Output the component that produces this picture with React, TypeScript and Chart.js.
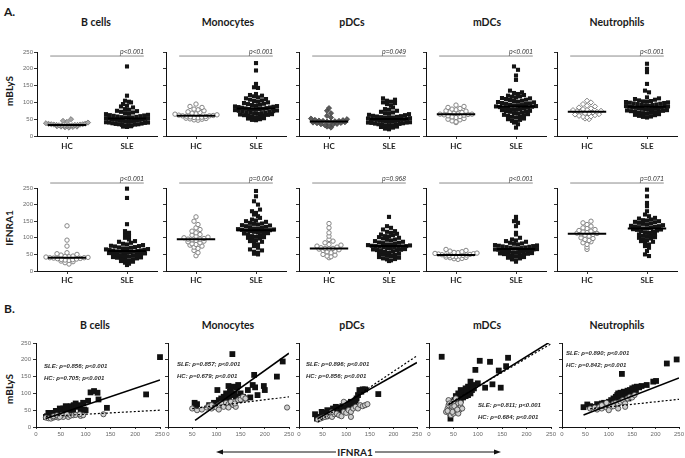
import React, { useEffect, useRef } from 'react';
import { Chart, registerables } from 'chart.js';
Chart.register(...registerables);
Chart.defaults.font.family = '"Liberation Sans", Arial, sans-serif';

// ---------------- DATA ----------------
const CELL_TYPES = ['B cells', 'Monocytes', 'pDCs', 'mDCs', 'Neutrophils'];
const GROUPS = ['HC', 'SLE'];
const ROW_LABELS = ['mBLyS', 'IFNRA1'];
const AXIS_MAX = 250;
const AXIS_STEP = 50;

// mBLyS (row A, top)
const BCELLS_HC_MBLYS = [25, 26, 27, 28, 28, 29, 30, 30, 31, 31, 32, 32, 33, 33, 33, 34, 34, 35, 35, 36, 37, 38, 40, 42, 45, 50];
const BCELLS_SLE_MBLYS = [27, 28, 29, 30, 31, 32, 33, 34, 35, 35, 36, 37, 38, 39, 40, 40, 41, 42, 43, 44, 45, 45, 46, 47, 48, 48, 49, 50, 50, 51, 52, 52, 53, 54, 55, 55, 56, 57, 58, 59, 60, 61, 62, 63, 65, 66, 68, 70, 72, 74, 75, 78, 80, 85, 88, 90, 95, 100, 102, 105, 120, 207];
const MONO_HC_MBLYS = [47, 48, 50, 51, 52, 53, 54, 55, 56, 57, 58, 59, 60, 60, 61, 62, 63, 65, 66, 68, 70, 72, 75, 78, 80, 85, 88, 95];
const MONO_SLE_MBLYS = [47, 48, 50, 52, 53, 55, 57, 58, 60, 61, 62, 63, 64, 65, 66, 67, 68, 69, 70, 71, 72, 73, 74, 75, 76, 77, 78, 79, 80, 80, 81, 82, 83, 84, 85, 86, 87, 88, 89, 90, 92, 93, 95, 96, 98, 100, 102, 104, 106, 108, 110, 112, 115, 118, 120, 122, 125, 143, 145, 155, 195, 217];
const PDC_HC_MBLYS = [25, 28, 30, 32, 34, 35, 36, 38, 39, 40, 41, 42, 43, 44, 45, 45, 46, 47, 48, 50, 52, 55, 60, 68, 75, 83];
const PDC_SLE_MBLYS = [20, 22, 25, 27, 28, 30, 31, 32, 33, 34, 35, 36, 37, 38, 39, 40, 40, 41, 42, 43, 44, 45, 45, 46, 47, 48, 48, 49, 50, 50, 51, 52, 53, 54, 55, 55, 56, 57, 58, 59, 60, 62, 63, 65, 66, 68, 70, 72, 75, 78, 80, 85, 90, 95, 98, 100, 102, 105, 108, 112];
const MDC_HC_MBLYS = [40, 42, 45, 48, 50, 52, 55, 57, 58, 60, 62, 63, 64, 65, 65, 66, 68, 70, 72, 74, 75, 78, 80, 82, 85, 88, 92];
const MDC_SLE_MBLYS = [25, 35, 40, 42, 45, 48, 50, 52, 55, 57, 58, 60, 62, 63, 65, 67, 68, 70, 72, 73, 74, 75, 77, 78, 79, 80, 82, 83, 84, 85, 86, 87, 88, 89, 90, 91, 92, 93, 95, 96, 97, 98, 100, 101, 102, 104, 105, 107, 108, 110, 112, 113, 115, 117, 118, 120, 122, 125, 128, 130, 135, 167, 180, 197, 207];
const NEUT_HC_MBLYS = [50, 52, 55, 57, 58, 60, 62, 64, 65, 67, 68, 70, 72, 72, 74, 75, 77, 78, 80, 82, 85, 88, 90, 95, 100, 105];
const NEUT_SLE_MBLYS = [55, 57, 58, 60, 62, 63, 65, 66, 68, 69, 70, 71, 72, 73, 74, 75, 76, 77, 78, 79, 80, 81, 82, 83, 83, 84, 85, 86, 87, 87, 88, 89, 90, 91, 92, 93, 94, 95, 96, 97, 98, 99, 100, 101, 102, 103, 104, 106, 108, 110, 112, 115, 130, 135, 155, 190, 200, 215];

// IFNRA1 (row A, bottom)
const BCELLS_HC_IFNRA1 = [21, 25, 28, 30, 32, 33, 34, 35, 36, 37, 38, 39, 40, 40, 41, 42, 43, 44, 45, 48, 50, 52, 55, 75, 93, 136];
const BCELLS_SLE_IFNRA1 = [18, 22, 25, 28, 30, 32, 33, 35, 36, 38, 40, 41, 42, 44, 45, 46, 47, 48, 50, 51, 52, 53, 54, 55, 56, 57, 58, 58, 59, 60, 61, 62, 63, 64, 65, 66, 67, 68, 70, 71, 72, 74, 75, 76, 78, 80, 82, 85, 88, 90, 95, 100, 105, 110, 115, 120, 141, 220, 248];
const MONO_HC_IFNRA1 = [46, 55, 62, 68, 72, 75, 78, 80, 82, 85, 88, 90, 92, 94, 96, 96, 98, 100, 102, 105, 108, 110, 115, 120, 125, 130, 140, 150, 163];
const MONO_SLE_IFNRA1 = [50, 52, 55, 58, 62, 65, 70, 75, 80, 85, 88, 90, 92, 95, 98, 100, 102, 103, 105, 108, 110, 112, 113, 114, 116, 118, 119, 120, 121, 122, 123, 124, 125, 126, 127, 128, 130, 132, 133, 135, 137, 138, 140, 142, 143, 145, 148, 150, 152, 155, 160, 165, 170, 175, 180, 185, 200, 210, 225, 241];
const PDC_HC_IFNRA1 = [40, 43, 45, 48, 50, 55, 58, 60, 62, 64, 66, 67, 68, 68, 70, 72, 75, 78, 80, 85, 90, 95, 105, 115, 130, 143];
const PDC_SLE_IFNRA1 = [30, 32, 35, 36, 38, 40, 42, 45, 46, 48, 50, 52, 54, 55, 57, 58, 60, 62, 63, 64, 65, 66, 68, 69, 70, 71, 72, 73, 74, 75, 75, 76, 77, 78, 79, 80, 82, 84, 85, 86, 88, 90, 92, 94, 95, 98, 100, 102, 104, 105, 108, 110, 112, 115, 118, 120, 125, 130, 135, 163];
const MDC_HC_IFNRA1 = [35, 37, 38, 40, 41, 42, 43, 44, 45, 46, 47, 48, 48, 49, 50, 51, 52, 53, 54, 55, 56, 58, 60, 62, 65];
const MDC_SLE_IFNRA1 = [28, 32, 35, 38, 40, 42, 44, 45, 47, 48, 50, 51, 52, 53, 54, 55, 56, 57, 58, 59, 60, 61, 62, 63, 64, 65, 65, 66, 67, 68, 69, 70, 71, 72, 73, 74, 75, 76, 77, 78, 80, 82, 83, 85, 88, 90, 92, 95, 100, 110, 115, 135, 145, 150, 155, 163];
const NEUT_HC_IFNRA1 = [65, 72, 80, 85, 88, 92, 95, 98, 100, 105, 108, 110, 112, 113, 114, 116, 118, 120, 122, 125, 128, 130, 135, 140, 145, 150];
const NEUT_SLE_IFNRA1 = [45, 50, 60, 70, 75, 80, 85, 88, 90, 93, 95, 98, 100, 102, 105, 106, 108, 110, 112, 115, 116, 118, 120, 122, 124, 125, 126, 128, 128, 130, 132, 133, 134, 135, 136, 138, 140, 142, 143, 145, 147, 148, 150, 152, 153, 155, 158, 160, 165, 170, 180, 195, 205, 225, 245];

const P_MBLYS = ['p<0.001', 'p<0.001', 'p=0.049', 'p<0.001', 'p<0.001'];
const P_IFNRA1 = ['p<0.001', 'p=0.004', 'p=0.968', 'p<0.001', 'p=0.071'];

// Correlation scatter (row B): [IFNRA1, mBLyS]
const BCELLS_SLE_XY = [[250, 208], [222, 97], [143, 57], [110, 103], [117, 107], [124, 102], [126, 82], [105, 78], [97, 52], [95, 72], [88, 65], [85, 60], [80, 70], [76, 65], [73, 55], [70, 62], [68, 48], [65, 58], [62, 52], [60, 62], [58, 45], [55, 55], [52, 50], [50, 40], [48, 55], [45, 45], [42, 38], [40, 48], [36, 42], [33, 35], [28, 40], [25, 42], [22, 32], [20, 30], [30, 30], [55, 35], [65, 40], [75, 45], [90, 48], [100, 50], [60, 57], [70, 42]];
const BCELLS_HC_XY = [[20, 28], [25, 26], [30, 25], [35, 28], [38, 30], [40, 30], [45, 32], [50, 33], [55, 32], [60, 35], [65, 30], [70, 34], [75, 35], [80, 36], [90, 33], [95, 35], [136, 38], [45, 28], [55, 30], [35, 32], [42, 35], [52, 36], [62, 38], [48, 30], [88, 38]];
const MONO_SLE_XY = [[55, 72], [60, 68], [58, 62], [85, 65], [90, 60], [95, 72], [100, 70], [102, 110], [105, 80], [108, 75], [110, 85], [112, 65], [115, 90], [118, 78], [120, 100], [122, 95], [125, 122], [126, 85], [128, 105], [130, 112], [132, 95], [133, 217], [135, 120], [138, 100], [140, 90], [142, 118], [145, 125], [148, 80], [150, 100], [155, 90], [160, 85], [165, 110], [170, 88], [175, 125], [178, 155], [180, 118], [185, 95], [198, 122], [200, 110], [225, 150], [237, 195], [120, 75], [95, 60]];
const MONO_HC_XY = [[50, 55], [60, 50], [70, 52], [80, 58], [85, 62], [90, 55], [95, 60], [100, 58], [105, 65], [110, 70], [115, 60], [120, 72], [125, 68], [130, 75], [135, 65], [140, 60], [145, 80], [150, 82], [155, 90], [160, 85], [105, 52], [125, 58], [138, 70], [246, 58], [90, 65]];
const PDC_SLE_XY = [[34, 38], [38, 25], [40, 30], [45, 28], [50, 35], [55, 42], [58, 32], [62, 45], [65, 38], [70, 48], [72, 55], [75, 40], [78, 60], [80, 45], [85, 52], [88, 58], [90, 48], [92, 62], [95, 55], [98, 50], [100, 65], [102, 58], [105, 70], [108, 62], [110, 75], [112, 60], [115, 68], [118, 72], [120, 80], [122, 85], [125, 95], [128, 110], [132, 105], [135, 112], [140, 112], [168, 98], [60, 50], [85, 40], [48, 45]];
const PDC_HC_XY = [[40, 22], [45, 25], [50, 28], [55, 30], [60, 32], [65, 35], [70, 30], [75, 38], [80, 40], [85, 35], [90, 32], [95, 45], [100, 42], [105, 50], [110, 45], [115, 55], [120, 60], [125, 55], [130, 65], [135, 62], [140, 65], [145, 68], [95, 75], [70, 45], [110, 30]];
const MDC_SLE_XY = [[26, 209], [104, 197], [125, 194], [162, 206], [158, 181], [143, 168], [115, 117], [130, 127], [147, 117], [95, 170], [100, 130], [90, 125], [85, 135], [80, 120], [78, 110], [75, 115], [72, 100], [70, 105], [68, 95], [65, 110], [62, 90], [60, 100], [58, 85], [55, 92], [52, 80], [50, 75], [48, 70], [46, 60], [45, 40], [44, 25], [50, 55], [55, 65], [60, 75], [65, 80], [70, 88], [75, 92], [80, 95], [85, 100], [88, 110], [92, 115], [40, 50], [58, 70]];
const MDC_HC_XY = [[35, 45], [38, 55], [40, 65], [42, 40], [45, 50], [48, 60], [50, 75], [52, 55], [55, 45], [58, 65], [60, 70], [62, 50], [65, 60], [68, 55], [45, 35], [40, 80], [55, 85], [50, 40], [60, 40], [65, 72], [42, 70], [48, 45], [52, 62], [58, 52], [38, 48]];
const NEUT_SLE_XY = [[46, 59], [54, 67], [60, 62], [70, 60], [75, 68], [80, 65], [85, 70], [90, 72], [95, 68], [100, 75], [105, 80], [110, 85], [112, 78], [115, 90], [118, 95], [120, 100], [122, 88], [125, 102], [128, 158], [130, 95], [132, 105], [135, 92], [138, 100], [140, 108], [142, 85], [145, 110], [148, 95], [150, 115], [152, 102], [155, 118], [158, 110], [160, 120], [165, 118], [170, 122], [181, 125], [195, 135], [201, 137], [224, 189], [245, 201], [100, 65], [130, 80], [90, 62]];
const NEUT_HC_XY = [[60, 55], [70, 58], [75, 52], [80, 60], [85, 55], [90, 62], [95, 58], [100, 65], [105, 60], [110, 70], [115, 72], [120, 68], [125, 75], [130, 80], [135, 70], [140, 85], [145, 90], [150, 88], [155, 95], [100, 50], [120, 55], [135, 60], [110, 62], [85, 65], [95, 72]];

const RHO_SLE = ['0.856', '0.857', '0.896', '0.811', '0.890'];
const RHO_HC = ['0.705', '0.679', '0.856', '0.684', '0.842'];
const RHO_P = ['p<0.001', 'p<0.001', 'p<0.001', 'p<0.001', 'p<0.001'];
// regression lines: slope, intercept, first x
const SLE_FIT_SLOPE = [0.5, 1.03, 0.795, 0.9, 0.54];
const SLE_FIT_INTERCEPT = [15, -38, -6.8, 30, 11];
const SLE_FIT_FROM = [20, 56, 40, 40, 46];
const HC_FIT_SLOPE = [0.08, 0.175, 0.938, 0.85, 0.15];
const HC_FIT_INTERCEPT = [30, 46, -22.5, 35, 45];
const HC_FIT_FROM = [20, 50, 40, 40, 60];
const FIT_TO = 250;

const ROW_HC = [
  [BCELLS_HC_MBLYS, MONO_HC_MBLYS, PDC_HC_MBLYS, MDC_HC_MBLYS, NEUT_HC_MBLYS],
  [BCELLS_HC_IFNRA1, MONO_HC_IFNRA1, PDC_HC_IFNRA1, MDC_HC_IFNRA1, NEUT_HC_IFNRA1],
];
const ROW_SLE = [
  [BCELLS_SLE_MBLYS, MONO_SLE_MBLYS, PDC_SLE_MBLYS, MDC_SLE_MBLYS, NEUT_SLE_MBLYS],
  [BCELLS_SLE_IFNRA1, MONO_SLE_IFNRA1, PDC_SLE_IFNRA1, MDC_SLE_IFNRA1, NEUT_SLE_IFNRA1],
];
const ROW_P = [P_MBLYS, P_IFNRA1];
const SC_SLE = [BCELLS_SLE_XY, MONO_SLE_XY, PDC_SLE_XY, MDC_SLE_XY, NEUT_SLE_XY];
const SC_HC = [BCELLS_HC_XY, MONO_HC_XY, PDC_HC_XY, MDC_HC_XY, NEUT_HC_XY];

// ---------------- LAYOUT / STYLE ----------------
const W = 685, H = 458;
const DOT_LEFT = [37, 166, 299, 426, 557];
const DOT_W = 120;
const ROW_TOP = [52, 188];
const ROW_H = [84, 83];
const P_LINE_Y = [238, 265];
const P_LINE_X = [0.72, 2.28];
const MED_HALF = 0.32;
const SC_LEFT = [36, 168, 299, 429, 562];
const SC_W = [124, 121, 118, 122, 117];
const SC_TOP = 343, SC_H = 84;
const PAD = { l: 4, t: 18, r: 12, b: 2 };
const YW = 20, XH = 16;
const TITLE_A_X = [96, 228, 352, 487, 617];
const TITLE_B_X = [95, 228, 352, 487, 617];
const NOTE_POS = [[8, 23], [9, 21], [7, 21], [49, 62], [4, 10]];
const HC_STYLE = [
  ['diaGray', 'circle', 'diaDark', 'circle', 'diaOpen'],
  ['circle', 'circle', 'circle', 'circle', 'circle'],
];
const STYLES: any = {
  circle: { pointStyle: 'circle', radius: 2.2, backgroundColor: '#ffffff', borderColor: '#858585', borderWidth: 1 },
  diaGray: { pointStyle: 'rectRot', radius: 2.6, backgroundColor: '#a8a8a8', borderColor: '#707070', borderWidth: 0.8 },
  diaDark: { pointStyle: 'rectRot', radius: 2.6, backgroundColor: '#5a5a5a', borderColor: '#444444', borderWidth: 0.8 },
  diaOpen: { pointStyle: 'rectRot', radius: 2.6, backgroundColor: '#ffffff', borderColor: '#858585', borderWidth: 1 },
};
const BOLD = 'Lato, "Open Sans", sans-serif';

function median(a: number[]) {
  const s = [...a].sort((x, y) => x - y);
  const n = s.length;
  return n % 2 ? s[(n - 1) / 2] : (s[n / 2 - 1] + s[n / 2]) / 2;
}

// beeswarm layout: rows of similar values spread horizontally
function swarm(values: number[], center: number, pxPerY: number, pxPerX: number) {
  const binPx = 4, stepPx = 4, maxHalf = 21;
  const binVal = binPx / pxPerY;
  const bins = new Map<number, number[]>();
  values.forEach((v) => {
    const k = Math.round(v / binVal);
    if (!bins.has(k)) bins.set(k, []);
    bins.get(k)!.push(v);
  });
  const pts: { x: number; y: number }[] = [];
  bins.forEach((arr) => {
    const n = arr.length;
    let step = stepPx;
    if (n > 1 && ((n - 1) * step) / 2 > maxHalf) step = (2 * maxHalf) / (n - 1);
    arr.sort((a, b) => a - b);
    // center-out ordering
    const order: number[] = [];
    for (let i = 0; i < n; i++) order.push(i % 2 === 0 ? i / 2 : -(i + 1) / 2);
    const shift = n % 2 === 0 ? 0.5 : 0;
    arr.forEach((v, i) => pts.push({ x: center + ((order[i] + shift) * step) / pxPerX, y: v }));
  });
  return pts;
}

function axisY(showLabels: boolean, pad: number) {
  return {
    type: 'linear', min: 0, max: AXIS_MAX,
    ticks: { stepSize: AXIS_STEP, padding: pad, color: '#6a6a6a', font: { size: 6 }, callback: (v: any) => (showLabels ? String(v) : '') },
    grid: { drawOnChartArea: false, drawTicks: true, tickLength: 3, color: '#333' },
    border: { display: true, color: '#111', width: 1 },
    afterFit: (s: any) => { s.width = YW; s.paddingTop = 0; s.paddingBottom = 0; },
  };
}

function dotPanel(canvas: HTMLCanvasElement, r: number, c: number) {
  const plotH = ROW_H[r];
  const pxPerY = plotH / AXIS_MAX, pxPerX = DOT_W / 2;
  const hc = ROW_HC[r][c], sle = ROW_SLE[r][c];
  const mh = median(hc), ms = median(sle);
  const pY = P_LINE_Y[r];
  const pText = ROW_P[r][c];
  const hs = STYLES[HC_STYLE[r][c]];
  return new Chart(canvas, {
    type: 'scatter',
    data: {
      datasets: [
        { data: [{ x: 1 - MED_HALF, y: mh }, { x: 1 + MED_HALF, y: mh }], showLine: true, borderColor: '#000', borderWidth: 2, pointRadius: 0 },
        { data: [{ x: 2 - MED_HALF, y: ms }, { x: 2 + MED_HALF, y: ms }], showLine: true, borderColor: '#000', borderWidth: 2, pointRadius: 0 },
        { data: [{ x: P_LINE_X[0], y: pY }, { x: P_LINE_X[1], y: pY }], showLine: true, borderColor: '#8c8c8c', borderWidth: 1, pointRadius: 0, clip: false },
        { data: swarm(hc, 1, pxPerY, pxPerX), pointStyle: hs.pointStyle, pointRadius: hs.radius, backgroundColor: hs.backgroundColor, borderColor: hs.borderColor, borderWidth: hs.borderWidth, clip: false },
        { data: swarm(sle, 2, pxPerY, pxPerX), pointStyle: 'rect', pointRadius: 2.9, backgroundColor: '#141414', borderColor: '#141414', borderWidth: 0, clip: false },
      ] as any,
    },
    options: {
      animation: false, responsive: false, devicePixelRatio: 1,
      layout: { padding: { left: PAD.l, top: PAD.t, right: PAD.r, bottom: PAD.b }, autoPadding: false },
      plugins: { legend: { display: false }, tooltip: { enabled: false } },
      scales: {
        x: {
          type: 'linear', min: 0.5, max: 2.5,
          afterBuildTicks: (s: any) => { s.ticks = [{ value: 1 }, { value: 2 }]; },
          ticks: { autoSkip: false, maxRotation: 0, padding: r === 0 ? 3 : 2, color: '#222', font: { family: BOLD, weight: 'bold', size: 8 }, callback: (_v: any, i: number) => GROUPS[i] },
          grid: { drawOnChartArea: false, drawTicks: true, tickLength: 3, color: '#333' },
          border: { display: true, color: '#111', width: 1 },
          afterFit: (s: any) => { s.height = XH; s.paddingLeft = 0; s.paddingRight = 0; },
        },
        y: axisY(c === 0, 1),
      } as any,
    },
    plugins: [{
      id: 'ptext',
      afterDatasetsDraw(chart: any) {
        const ctx = chart.ctx;
        const xs = chart.scales.x, ys = chart.scales.y;
        ctx.save();
        ctx.fillStyle = '#333';
        ctx.font = 'italic 6.5px "Liberation Sans", Arial, sans-serif';
        ctx.textAlign = 'right';
        ctx.textBaseline = 'alphabetic';
        ctx.fillText(pText, xs.getPixelForValue(P_LINE_X[1]), ys.getPixelForValue(pY) - 2);
        ctx.restore();
      },
    }],
  } as any);
}

function scatterPanel(canvas: HTMLCanvasElement, c: number) {
  const fit = (m: number, b: number, from: number) => [{ x: from, y: m * from + b }, { x: FIT_TO, y: m * FIT_TO + b }];
  const notes = [`SLE: ρ=${RHO_SLE[c]}; ${RHO_P[c]}`, `HC: ρ=${RHO_HC[c]}; ${RHO_P[c]}`];
  const [nx, ny] = NOTE_POS[c];
  return new Chart(canvas, {
    type: 'scatter',
    data: {
      datasets: [
        { data: fit(SLE_FIT_SLOPE[c], SLE_FIT_INTERCEPT[c], SLE_FIT_FROM[c]), showLine: true, borderColor: '#000', borderWidth: 1.6, pointRadius: 0 },
        { data: fit(HC_FIT_SLOPE[c], HC_FIT_INTERCEPT[c], HC_FIT_FROM[c]), showLine: true, borderColor: '#000', borderWidth: 1.2, borderDash: [2, 2], pointRadius: 0 },
        { data: SC_HC[c].map(([x, y]) => ({ x, y })), pointStyle: 'circle', pointRadius: 2.6, backgroundColor: '#cfcfcf', borderColor: '#3a3a3a', borderWidth: 0.8, clip: false },
        { data: SC_SLE[c].map(([x, y]) => ({ x, y })), pointStyle: 'rect', pointRadius: 4.1, backgroundColor: '#111', borderColor: '#111', borderWidth: 0, clip: false },
      ] as any,
    },
    options: {
      animation: false, responsive: false, devicePixelRatio: 1,
      layout: { padding: { left: PAD.l, top: PAD.t, right: PAD.r, bottom: PAD.b }, autoPadding: false },
      plugins: { legend: { display: false }, tooltip: { enabled: false } },
      scales: {
        x: {
          type: 'linear', min: 0, max: AXIS_MAX,
          ticks: { stepSize: AXIS_STEP, padding: 2, maxRotation: 0, autoSkip: false, color: '#6a6a6a', font: { size: 6 } },
          grid: { drawOnChartArea: false, drawTicks: true, tickLength: 2, color: '#333' },
          border: { display: true, color: '#111', width: 1 },
          afterFit: (s: any) => { s.height = XH; s.paddingLeft = 0; s.paddingRight = 0; },
        },
        y: axisY(c === 0, 2),
      } as any,
    },
    plugins: [{
      id: 'notes',
      afterDatasetsDraw(chart: any) {
        const ctx = chart.ctx;
        const a = chart.chartArea;
        ctx.save();
        ctx.fillStyle = '#2a2a2a';
        ctx.font = 'italic bold 6px "Liberation Sans", Arial, sans-serif';
        ctx.textAlign = 'left';
        ctx.textBaseline = 'middle';
        notes.forEach((t, i) => ctx.fillText(t, a.left + nx, a.top + ny + i * 12.5));
        ctx.restore();
      },
    }],
  } as any);
}

function canvasBox(plotLeft: number, plotTop: number, plotW: number, plotH: number) {
  return {
    left: plotLeft - YW - PAD.l,
    top: plotTop - PAD.t,
    width: PAD.l + YW + plotW + PAD.r,
    height: PAD.t + plotH + XH + PAD.b,
  };
}

export default function App() {
  const refs = useRef<(HTMLCanvasElement | null)[]>([]);

  useEffect(() => {
    const charts: Chart[] = [];
    for (let r = 0; r < 2; r++) {
      for (let c = 0; c < 5; c++) {
        const cv = refs.current[r * 5 + c];
        if (cv) charts.push(dotPanel(cv, r, c));
      }
    }
    for (let c = 0; c < 5; c++) {
      const cv = refs.current[10 + c];
      if (cv) charts.push(scatterPanel(cv, c));
    }
    return () => charts.forEach((ch) => ch.destroy());
  }, []);

  const boxes: any[] = [];
  for (let r = 0; r < 2; r++) for (let c = 0; c < 5; c++) boxes.push(canvasBox(DOT_LEFT[c], ROW_TOP[r], DOT_W, ROW_H[r]));
  for (let c = 0; c < 5; c++) boxes.push(canvasBox(SC_LEFT[c], SC_TOP, SC_W[c], SC_H));

  const boldText = (size: number): React.CSSProperties => ({ position: 'absolute', fontFamily: BOLD, fontWeight: 700, fontSize: size, color: '#1a1a1a', whiteSpace: 'nowrap', lineHeight: 1 });

  return (
    <div style={{ position: 'absolute', left: 0, top: 0, width: W, height: H, background: '#fff', overflow: 'hidden' }}>
      <div style={{ ...boldText(12), left: 4, top: 6 }}>A.</div>
      <div style={{ ...boldText(12), left: 4, top: 303 }}>B.</div>
      {CELL_TYPES.map((t, i) => (
        <div key={'ta' + i} style={{ ...boldText(10.5), left: TITLE_A_X[i], top: 22, transform: 'translate(-50%, -50%)' }}>{t}</div>
      ))}
      {CELL_TYPES.map((t, i) => (
        <div key={'tb' + i} style={{ ...boldText(10.5), left: TITLE_B_X[i], top: 325, transform: 'translate(-50%, -50%)' }}>{t}</div>
      ))}
      <div style={{ ...boldText(10), left: 9, top: 91, transform: 'translate(-50%, -50%) rotate(-90deg)' }}>{ROW_LABELS[0]}</div>
      <div style={{ ...boldText(10), left: 9, top: 228, transform: 'translate(-50%, -50%) rotate(-90deg)' }}>{ROW_LABELS[1]}</div>
      <div style={{ ...boldText(10), left: 9, top: 389, transform: 'translate(-50%, -50%) rotate(-90deg)' }}>{ROW_LABELS[0]}</div>
      <svg width={W} height={H} style={{ position: 'absolute', left: 0, top: 0 }}>
        <line x1={219} y1={452} x2={336} y2={452} stroke="#111" strokeWidth={1} />
        <polygon points="216,452 223,449.5 223,454.5" fill="#111" />
        <line x1={375} y1={452} x2={497} y2={452} stroke="#111" strokeWidth={1} />
        <polygon points="501,452 494,449.5 494,454.5" fill="#111" />
      </svg>
      <div style={{ ...boldText(10), left: 355, top: 452, transform: 'translate(-50%, -50%)' }}>{ROW_LABELS[1]}</div>
      {boxes.map((b, i) => (
        <canvas
          key={i}
          ref={(el) => { refs.current[i] = el; }}
          width={b.width}
          height={b.height}
          style={{ position: 'absolute', left: b.left, top: b.top, width: b.width, height: b.height }}
        />
      ))}
    </div>
  );
}
